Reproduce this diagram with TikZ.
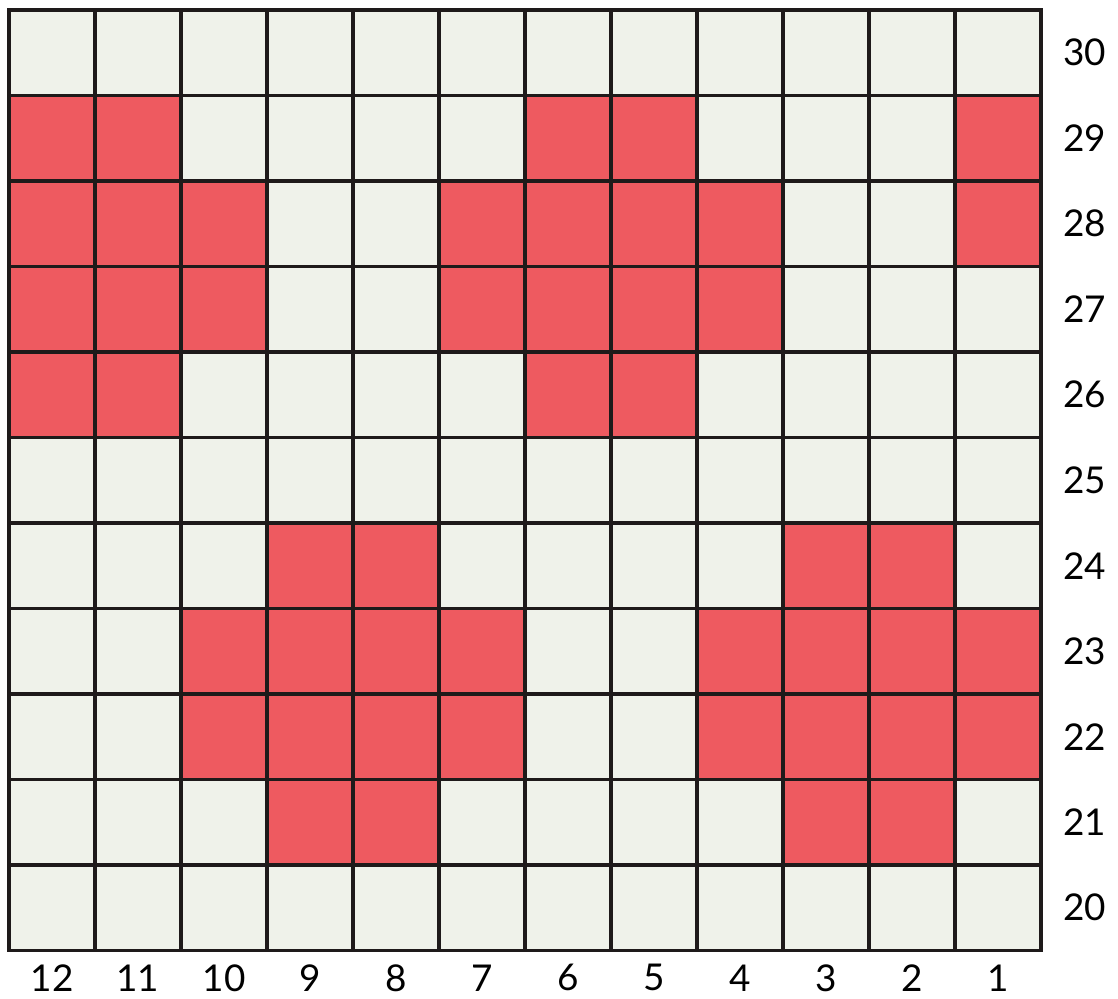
\documentclass[tikz,border=0pt]{standalone}
\usepackage{fontspec}
\setmainfont{Lato}
\definecolor{gridline}{RGB}{30, 26, 26}
\definecolor{cellpale}{RGB}{239, 242, 234}
\definecolor{cellred}{RGB}{238, 90, 96}
\usepackage{tikz}
\usetikzlibrary{positioning}
\tikzstyle{cell} = [draw=gridline, line width=1.8pt, minimum width=1.72cm, minimum height=1.71cm,
                    inner sep=0pt, outer sep=0pt, fill=cellpale]
\tikzstyle{marked} = [cell, fill=cellred]
\tikzstyle{numlabel} = [font=\fontsize{21}{25}\selectfont, text=black, inner sep=0pt]

\begin{document}
\begin{tikzpicture}[x=1.72cm, y=1.71cm]
    \useasboundingbox (-0.18cm, -0.96cm) rectangle (22.18cm, 19.01cm);
    % pale cells, columns 12..1 from left, rows 20..30 from bottom
    \foreach \c in {1,...,12} {
        \foreach \r in {20,...,30} {
            \node[cell] (c\c r\r) at ({12.5-\c}, {\r-19.5}) {};
        }
    }
    % red cells
    \foreach \c/\r in {12/29, 11/29, 6/29, 5/29, 1/29,
                       12/28, 11/28, 10/28, 7/28, 6/28, 5/28, 4/28, 1/28,
                       12/27, 11/27, 10/27, 7/27, 6/27, 5/27, 4/27,
                       12/26, 11/26, 6/26, 5/26,
                       9/24, 8/24, 3/24, 2/24,
                       10/23, 9/23, 8/23, 7/23, 4/23, 3/23, 2/23, 1/23,
                       10/22, 9/22, 8/22, 7/22, 4/22, 3/22, 2/22, 1/22,
                       9/21, 8/21, 3/21, 2/21} {
        \node[marked] at (c\c r\r) {};
    }
    % row numbers
    \foreach \r in {20,...,30} {
        \node[numlabel] (row\r) at (12.51, {\r-19.5}) {\r};
    }
    % column numbers
    \foreach \c in {1,...,12} {
        \node[numlabel] (col\c) at ({12.5-\c}, -0.32) {\c};
    }
\end{tikzpicture}
\end{document}
